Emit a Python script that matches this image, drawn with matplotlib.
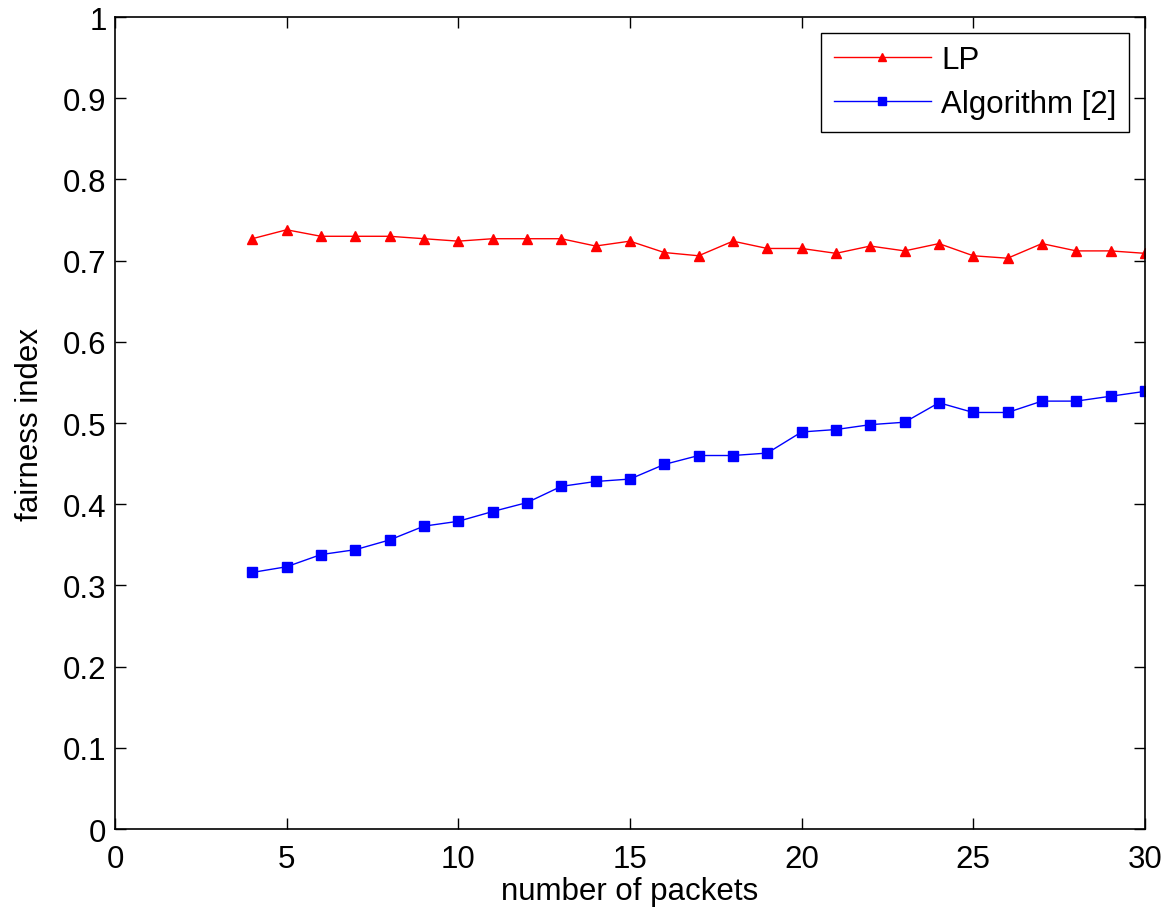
import matplotlib
matplotlib.use("Agg")
import matplotlib.pyplot as plt

packets = list(range(4, 31))
lp = [0.727, 0.738, 0.730, 0.730, 0.730, 0.727, 0.724, 0.727, 0.727, 0.727,
      0.718, 0.724, 0.710, 0.706, 0.724, 0.715, 0.715, 0.709, 0.718, 0.712,
      0.721, 0.706, 0.703, 0.721, 0.712, 0.712, 0.709]
alg2 = [0.316, 0.323, 0.338, 0.344, 0.356, 0.373, 0.379, 0.391, 0.402, 0.422,
        0.428, 0.431, 0.449, 0.460, 0.460, 0.463, 0.489, 0.492, 0.498, 0.501,
        0.525, 0.513, 0.513, 0.527, 0.527, 0.533, 0.539]
xticks = [0, 5, 10, 15, 20, 25, 30]
yticks = [0, 0.1, 0.2, 0.3, 0.4, 0.5, 0.6, 0.7, 0.8, 0.9, 1]
ytick_labels = ["0", "0.1", "0.2", "0.3", "0.4", "0.5", "0.6", "0.7", "0.8", "0.9", "1"]

plt.rcParams['font.family'] = ['Liberation Sans', 'DejaVu Sans']

fs = 22.5
fig = plt.figure(figsize=(11.67, 9.12), dpi=100)
ax = fig.add_axes([0.0985, 0.0899, 0.8826, 0.8903])

ax.plot(packets, lp, color='red', marker='^', markersize=7, linewidth=1, label='LP')
ax.plot(packets, alg2, color='blue', marker='s', markersize=7, linewidth=1, label='Algorithm [2]')

ax.set_xlim(0, 30)
ax.set_ylim(0, 1)
ax.set_xticks(xticks)
ax.set_yticks(yticks)
ax.set_yticklabels(ytick_labels)
ax.tick_params(direction='in', top=True, right=True, labelsize=fs, length=8, width=1)
ax.tick_params(axis='x', pad=11)
ax.tick_params(axis='y', pad=6)
for s in ax.spines.values():
    s.set_linewidth(1.2)

ax.set_xlabel('number of packets', fontsize=fs, labelpad=1)
ax.set_ylabel('fairness index', fontsize=fs, labelpad=13)

leg = ax.legend(loc='upper right', fontsize=fs, fancybox=False, edgecolor='black',
                framealpha=1, borderaxespad=0.5, handlelength=3.1, handletextpad=0.35,
                labelspacing=0.45, borderpad=0.4, markerscale=0.85)
leg.get_frame().set_linewidth(1)

fig.savefig('out.png', dpi=100)
